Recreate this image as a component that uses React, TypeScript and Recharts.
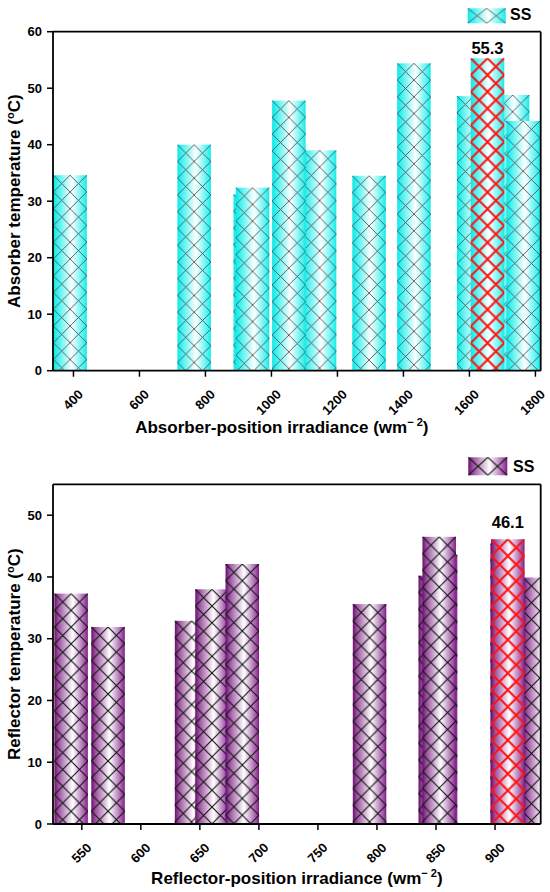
import React from 'react';
import { BarChart, Bar, XAxis, YAxis, Legend, LabelList, ReferenceLine } from 'recharts';

const FONT = '"Liberation Sans", Arial, Helvetica, sans-serif';

// ---------- Absorber panel data ----------
const absorberXTicks = [400, 600, 800, 1000, 1200, 1400, 1600, 1800];
const absorberYTicks = [0, 10, 20, 30, 40, 50, 60];
// bars partly hidden behind others
const absorberBackIrradiance = [935, 1145, 1612, 1730];
const absorberBackTemp = [31.2, 39.0, 48.6, 48.8];
// bars in front
const absorberFrontIrradiance = [390, 766, 943, 1053, 1296, 1432, 1655, 1763];
const absorberFrontTemp = [34.6, 40.0, 32.4, 47.8, 34.5, 54.4, 55.3, 44.2];
const absorberPeakIrradiance = 1655;

// ---------- Reflector panel data ----------
const reflectorXTicks = [550, 600, 650, 700, 750, 800, 850, 900];
const reflectorYTicks = [0, 10, 20, 30, 40, 50];
const reflectorRearIrradiance = [642.6, 849, 937.6];
const reflectorRearTemp = [32.9, 40.2, 39.9];
const reflectorMidIrradiance = [659.9, 853.5, 909.9];
const reflectorMidTemp = [38.0, 43.6, 45.4];
const reflectorFrontIrradiance = [540.7, 572, 685.7, 793.5, 852.5, 910.6];
const reflectorFrontTemp = [37.3, 31.9, 42.1, 35.6, 46.5, 46.1];
const reflectorPeakIrradiance = 910.6;

type Row = { irr: number; temp: number; peak: boolean };
const toRows = (irr: number[], temp: number[], peakIrr: number): Row[] =>
  irr.map((v, i) => ({ irr: v, temp: temp[i], peak: v === peakIrr }));

interface Panel {
  id: string;
  height: number;
  margin: { top: number; right: number; left: number; bottom: number };
  xAxisHeight: number;
  xDomain: [number, number];
  yDomain: [number, number];
  xTicks: number[];
  yTicks: number[];
  stops: { o: number; c: string }[];
  hatch: string;
  hatchWidth: number;
  xTitle: string;
  yTitle: string;
  xTitleDx: number;
  xTitleDy: number;
  labelGap: number;
  legendIcon: { x: number; y: number; w: number; h: number };
  legendText: { x: number; y: number };
}

const absorberPanel: Panel = {
  id: 'abs',
  height: 440,
  margin: { top: 31.7, right: 9.3, left: 0, bottom: 0 },
  xAxisHeight: 69.3,
  xDomain: [338, 1816],
  yDomain: [0, 60],
  xTicks: absorberXTicks,
  yTicks: absorberYTicks,
  stops: [
    { o: 0, c: '#10e8e8' },
    { o: 0.1, c: '#30f0f0' },
    { o: 0.55, c: '#ffffff' },
    { o: 0.92, c: '#40f2f2' },
    { o: 1, c: '#14eaea' },
  ],
  hatch: '#4a4a4a',
  hatchWidth: 0.85,
  xTitle: 'Absorber-position irradiance (wm',
  yTitle: 'Absorber temperature (',
  xTitleDx: -15,
  xTitleDy: 62,
  labelGap: 4.5,
  legendIcon: { x: 467.7, y: 8.3, w: 38, h: 15 },
  legendText: { x: 510, y: 20 },
};

const reflectorPanel: Panel = {
  id: 'ref',
  height: 452,
  margin: { top: 44.3, right: 9.3, left: 0, bottom: 0 },
  xAxisHeight: 68,
  xDomain: [525.6, 938.7],
  yDomain: [0, 55],
  xTicks: reflectorXTicks,
  yTicks: reflectorYTicks,
  stops: [
    { o: 0, c: '#6a0f6e' },
    { o: 0.12, c: '#9a4f9e' },
    { o: 0.55, c: '#ffffff' },
    { o: 0.9, c: '#a458aa' },
    { o: 1, c: '#7e1e86' },
  ],
  hatch: '#111111',
  hatchWidth: 1.1,
  xTitle: 'Reflector-position irradiance (wm',
  yTitle: 'Reflector temperature (',
  xTitleDx: 0,
  xTitleDy: 60,
  labelGap: 11,
  legendIcon: { x: 468.3, y: 17.3, w: 39, h: 18 },
  legendText: { x: 513, y: 32 },
};

const Gradient = ({ id, stops }: { id: string; stops: { o: number; c: string }[] }) => (
  <linearGradient id={id} x1="0" y1="0" x2="1" y2="0">
    {stops.map((s, i) => (
      <stop key={i} offset={s.o} stopColor={s.c} />
    ))}
  </linearGradient>
);

const makeBarShape = (panel: Panel, layerId: string) => (props: any) => {
  const { x, y, width, height, index, payload } = props;
  if (!(height > 0) || !(width > 0)) return <g />;
  const isPeak = payload && payload.peak;
  const cell = width / 2;
  const pid = `${panel.id}-${layerId}-hatch-${index}`;
  return (
    <g>
      <defs>
        <pattern id={pid} patternUnits="userSpaceOnUse" x={x} y={y} width={cell} height={cell}>
          <path
            d={`M0,0L${cell},${cell}M${cell},0L0,${cell}`}
            stroke={isPeak ? '#ff1212' : panel.hatch}
            strokeWidth={isPeak ? 2 : panel.hatchWidth}
            fill="none"
          />
        </pattern>
      </defs>
      <rect x={x} y={y} width={width} height={height} fill={`url(#${panel.id}-${layerId}-grad)`} />
      <rect x={x} y={y} width={width} height={height} fill={`url(#${pid})`} />
    </g>
  );
};

const SlantTick = (props: any) => {
  const { x, y, payload } = props;
  const tx = x + 10.5;
  const ty = y + 16.5;
  return (
    <text
      x={tx}
      y={ty}
      transform={`rotate(-45 ${tx} ${ty})`}
      textAnchor="end"
      fontFamily={FONT}
      fontSize={13}
      fontWeight="bold"
      fill="#000"
    >
      {payload.value}
    </text>
  );
};

const makeXTitle = (panel: Panel) => (props: any) => {
  const vb = props.viewBox;
  const cx = vb.x + vb.width / 2 + panel.xTitleDx;
  const cy = vb.y + panel.xTitleDy;
  return (
    <text x={cx} y={cy} textAnchor="middle" fontFamily={FONT} fontSize={17} fontWeight="bold" fill="#000">
      <tspan>{panel.xTitle}</tspan>
      <tspan dy={-7} fontSize={11}>{'\u2212 2'}</tspan>
      <tspan dy={7}>)</tspan>
    </text>
  );
};

const makeYTitle = (panel: Panel) => (props: any) => {
  const vb = props.viewBox;
  const cx = vb.x + 20;
  const cy = vb.y + vb.height / 2;
  return (
    <text
      x={cx}
      y={cy}
      transform={`rotate(-90 ${cx} ${cy})`}
      textAnchor="middle"
      fontFamily={FONT}
      fontSize={17}
      fontWeight="bold"
      fill="#000"
    >
      <tspan>{panel.yTitle}</tspan>
      <tspan dy={-6} fontSize={11}>o</tspan>
      <tspan dy={6}>C)</tspan>
    </text>
  );
};

const makePeakLabel = (panel: Panel, rows: Row[]) => (props: any) => {
  const { index, value } = props;
  if (!rows[index] || !rows[index].peak) return null;
  const vb = props.viewBox || props;
  return (
    <text
      x={vb.x + vb.width / 2}
      y={vb.y - panel.labelGap}
      textAnchor="middle"
      fontFamily={FONT}
      fontSize={16.5}
      fontWeight="bold"
      fill="#000"
    >
      {value}
    </text>
  );
};

const makeLegend = (panel: Panel) => () => {
  const { x, y, w, h } = panel.legendIcon;
  const gid = `${panel.id}-legend-grad`;
  const pid = `${panel.id}-legend-hatch`;
  return (
    <svg width={550} height={45} style={{ display: 'block' }}>
      <defs>
        <Gradient id={gid} stops={panel.stops} />
        <pattern id={pid} patternUnits="userSpaceOnUse" x={x} y={y} width={w / 2} height={h}>
          <path d={`M0,0L${w / 2},${h}M${w / 2},0L0,${h}`} stroke={panel.hatch} strokeWidth={panel.hatchWidth} fill="none" />
        </pattern>
      </defs>
      <rect x={x} y={y} width={w} height={h} fill={`url(#${gid})`} />
      <rect x={x} y={y} width={w} height={h} fill={`url(#${pid})`} />
      <text x={panel.legendText.x} y={panel.legendText.y} fontFamily={FONT} fontSize={16} fontWeight="bold" fill="#000">
        SS
      </text>
    </svg>
  );
};

const Layer = ({ panel, rows, layerId, front }: { panel: Panel; rows: Row[]; layerId: string; front: boolean }) => (
  <div style={{ position: 'absolute', left: 0, top: 0 }}>
    <BarChart width={550} height={panel.height} data={rows} margin={panel.margin}>
      <defs>
        <Gradient id={`${panel.id}-${layerId}-grad`} stops={panel.stops} />
      </defs>
      <XAxis
        type="number"
        dataKey="irr"
        domain={panel.xDomain}
        allowDataOverflow
        ticks={panel.xTicks}
        interval={0}
        height={panel.xAxisHeight}
        axisLine={front ? { stroke: '#000', strokeWidth: 1.8 } : false}
        tickLine={front ? { stroke: '#000', strokeWidth: 1.5 } : false}
        tickSize={6}
        tickMargin={2}
        tick={front ? <SlantTick /> : false}
        label={front ? makeXTitle(panel) : undefined}
      />
      <YAxis
        type="number"
        domain={panel.yDomain}
        ticks={panel.yTicks}
        interval={0}
        width={53}
        axisLine={front ? { stroke: '#000', strokeWidth: 1.8 } : false}
        tickLine={front ? { stroke: '#000', strokeWidth: 1.5 } : false}
        tickSize={6}
        tickMargin={5}
        tick={front ? { fill: '#000', fontSize: 13, fontWeight: 'bold', fontFamily: FONT } : false}
        label={front ? makeYTitle(panel) : undefined}
      />
      <Bar dataKey="temp" barSize={33.5} isAnimationActive={false} shape={makeBarShape(panel, layerId)}>
        {front ? <LabelList dataKey="temp" content={makePeakLabel(panel, rows)} /> : null}
      </Bar>
      {front ? <ReferenceLine y={panel.yDomain[1]} stroke="#000" strokeWidth={1.8} /> : null}
      {front ? <ReferenceLine x={panel.xDomain[1]} stroke="#000" strokeWidth={1.8} /> : null}
      {front ? (
        <Legend
          layout="vertical"
          align="center"
          verticalAlign="middle"
          wrapperStyle={{ left: 0, top: 0, width: 550, height: 45 }}
          content={makeLegend(panel)}
        />
      ) : null}
    </BarChart>
  </div>
);

const absorberBackRows = toRows(absorberBackIrradiance, absorberBackTemp, absorberPeakIrradiance);
const absorberFrontRows = toRows(absorberFrontIrradiance, absorberFrontTemp, absorberPeakIrradiance);
const reflectorRearRows = toRows(reflectorRearIrradiance, reflectorRearTemp, reflectorPeakIrradiance);
const reflectorMidRows = toRows(reflectorMidIrradiance, reflectorMidTemp, reflectorPeakIrradiance);
const reflectorFrontRows = toRows(reflectorFrontIrradiance, reflectorFrontTemp, reflectorPeakIrradiance);

export default function App() {
  return (
    <div style={{ position: 'absolute', left: 0, top: 0, width: 550, height: 892, background: '#fff' }}>
      <div style={{ position: 'absolute', left: 0, top: 0, width: 550, height: 440 }}>
        <Layer panel={absorberPanel} rows={absorberBackRows} layerId="back" front={false} />
        <Layer panel={absorberPanel} rows={absorberFrontRows} layerId="front" front />
      </div>
      <div style={{ position: 'absolute', left: 0, top: 440, width: 550, height: 452 }}>
        <Layer panel={reflectorPanel} rows={reflectorRearRows} layerId="rear" front={false} />
        <Layer panel={reflectorPanel} rows={reflectorMidRows} layerId="mid" front={false} />
        <Layer panel={reflectorPanel} rows={reflectorFrontRows} layerId="front" front />
      </div>
    </div>
  );
}
